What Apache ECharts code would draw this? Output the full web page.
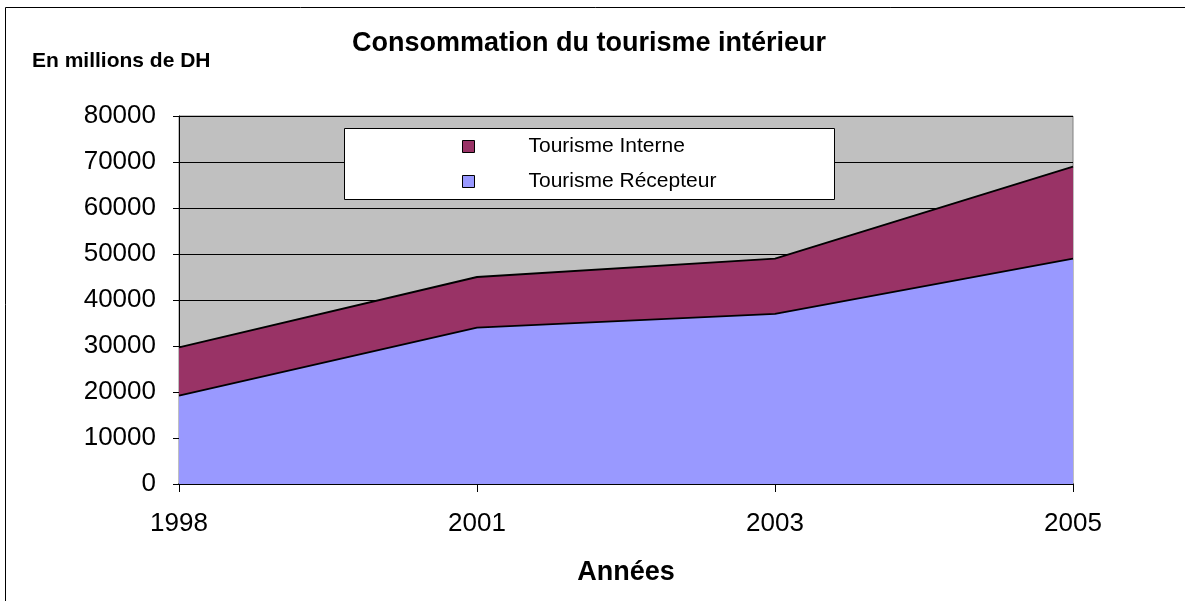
<!DOCTYPE html>
<html>
<head>
<meta charset="utf-8">
<script src="https://cdn.jsdelivr.net/npm/echarts@6/dist/echarts.min.js"></script>
<style>
html, body { margin: 0; padding: 0; background: #fff; }
#chart { width: 1185px; height: 601px; }
</style>
</head>
<body>
<div id="chart"></div>
<script>
var years = ['1998', '2001', '2003', '2005'];
var recepteur = [19200, 34000, 37000, 49000];
var interne = [10500, 11000, 12000, 20000];

var font = 'Liberation Sans, Arial, sans-serif';
var chart = echarts.init(document.getElementById('chart'));

chart.setOption({
    animation: false,
    textStyle: {fontFamily: font},
    title: {
        text: 'Consommation du tourisme intérieur',
        left: 584,
        top: 25,
        textAlign: 'center',
        textStyle: {fontSize: 27, fontWeight: 'bold', color: '#000', fontFamily: font}
    },
    graphic: [
        {
            type: 'rect',
            shape: {x: 5.5, y: 7.5, width: 1190, height: 600},
            style: {fill: 'none', stroke: '#000', lineWidth: 1},
            z: -10
        },
        {
            type: 'text',
            left: 32,
            top: 51,
            style: {text: 'En millions de DH', font: 'bold 21px ' + font, fill: '#000'}
        },
        {
            type: 'rect',
            shape: {x: 344.5, y: 128.5, width: 490, height: 71},
            style: {fill: '#fff', stroke: '#000', lineWidth: 1},
            z: 5
        }
    ],
    legend: {
        data: ['Tourisme Interne', 'Tourisme Récepteur'],
        orient: 'vertical',
        left: 457,
        top: 131,
        itemGap: 14,
        itemWidth: 12,
        itemHeight: 12,
        icon: 'rect',
        z: 10,
        textStyle: {fontSize: 21, color: '#000', fontFamily: font, padding: [0, 0, 0, 49]},
        itemStyle: {borderColor: '#000', borderWidth: 1}
    },
    grid: {
        left: 179,
        right: 112,
        top: 116,
        bottom: 117,
        show: true,
        backgroundColor: '#C0C0C0',
        borderColor: '#808080',
        borderWidth: 1
    },
    xAxis: {
        type: 'category',
        data: years,
        boundaryGap: false,
        name: 'Années',
        nameLocation: 'middle',
        nameGap: 75,
        nameTextStyle: {fontSize: 27, fontWeight: 'bold', color: '#000', fontFamily: font},
        axisLine: {lineStyle: {color: '#000', width: 1.5}},
        axisTick: {show: true, length: 8, alignWithLabel: true, lineStyle: {color: '#000'}},
        axisLabel: {fontSize: 26, color: '#000', margin: 27, fontFamily: font},
        splitLine: {show: false}
    },
    yAxis: {
        type: 'value',
        min: 0,
        max: 80000,
        interval: 10000,
        axisLine: {show: true, lineStyle: {color: '#000', width: 1}},
        axisTick: {show: true, length: 6, lineStyle: {color: '#000'}},
        axisLabel: {fontSize: 26, color: '#000', margin: 23, fontFamily: font,
            formatter: function (v) { return String(v); }},
        splitLine: {show: true, lineStyle: {color: '#000', width: 1}}
    },
    series: [
        {
            name: 'Tourisme Récepteur',
            type: 'line',
            stack: 'total',
            data: recepteur,
            symbol: 'none',
            lineStyle: {color: '#000', width: 1.8},
            itemStyle: {color: '#9999FF'},
            areaStyle: {color: '#9999FF', opacity: 1}
        },
        {
            name: 'Tourisme Interne',
            type: 'line',
            stack: 'total',
            data: interne,
            symbol: 'none',
            lineStyle: {color: '#000', width: 1.8},
            itemStyle: {color: '#993366'},
            areaStyle: {color: '#993366', opacity: 1}
        }
    ]
});
</script>
</body>
</html>
